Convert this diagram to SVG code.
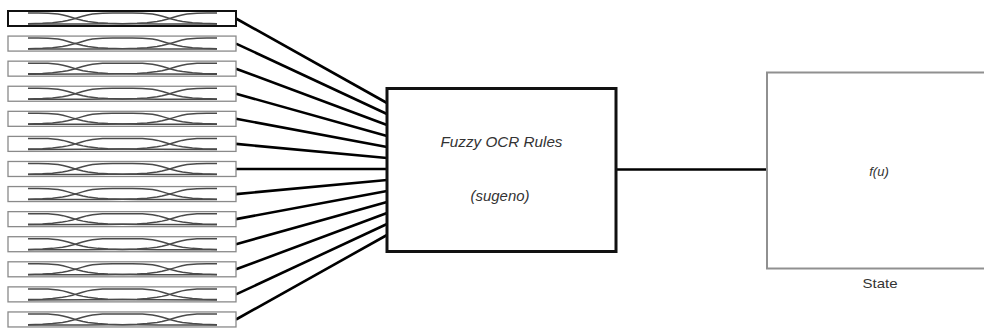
<svg xmlns="http://www.w3.org/2000/svg" xmlns:xlink="http://www.w3.org/1999/xlink" width="984" height="331" viewBox="0 0 984 331">
<style>
.in{fill:#fff;stroke:#8a8a8a;stroke-width:1.3}
.sel{stroke:#111;stroke-width:2}
.mf{fill:none;stroke:#4a4a4a;stroke-width:1.5}
.con{stroke:#000;stroke-width:2.6;fill:none}
.blk{fill:#fff;stroke:#111;stroke-width:3}
.out{fill:#fff;stroke:#909090;stroke-width:2}
.t{font-family:"Liberation Sans",Arial,sans-serif;fill:#333;text-anchor:middle}
.it{font-style:italic}
</style>
<defs>
<g id="mfs">
<polyline class="mf" points="28,2 38,2 48,2.15 58,3.03 63,4 68,5.33 73,6.83 75.25,7.5 78,8.27 83,9.49 88,10.44 98,11.65 108,12.26 122.5,12.67 138,12.84 158,12.93 217,13"/>
<polyline class="mf" points="28,12.67 42.5,12.26 52.5,11.65 62.5,10.44 67.5,9.49 72.5,8.27 75.25,7.5 77.5,6.83 82.5,5.33 87.5,4 92.5,3.03 102.5,2.15 112.5,2 122.5,2 132.5,2 142.5,2.15 152.5,3.03 157.5,4 162.5,5.33 167.5,6.83 169.75,7.5 172.5,8.27 177.5,9.49 182.5,10.44 192.5,11.65 202.5,12.26 217,12.67"/>
<polyline class="mf" points="217,2 207,2 197,2.15 187,3.03 182,4 177,5.33 172,6.83 169.75,7.5 167,8.27 162,9.49 157,10.44 147,11.65 137,12.26 122.5,12.67 107,12.84 87,12.93 28,13"/>
</g>
</defs>
<g id="connectors">
<line class="con" x1="236" y1="18.5" x2="387" y2="103"/>
<line class="con" x1="236" y1="43.6" x2="387" y2="114"/>
<line class="con" x1="236" y1="68.7" x2="387" y2="125"/>
<line class="con" x1="236" y1="93.7" x2="387" y2="136"/>
<line class="con" x1="236" y1="118.8" x2="387" y2="147"/>
<line class="con" x1="236" y1="143.9" x2="387" y2="158"/>
<line class="con" x1="236" y1="169" x2="387" y2="169"/>
<line class="con" x1="236" y1="194.1" x2="387" y2="180"/>
<line class="con" x1="236" y1="219.1" x2="387" y2="191"/>
<line class="con" x1="236" y1="244.2" x2="387" y2="202"/>
<line class="con" x1="236" y1="269.3" x2="387" y2="213"/>
<line class="con" x1="236" y1="294.4" x2="387" y2="224"/>
<line class="con" x1="236" y1="319.5" x2="387" y2="235"/>
<line class="con" x1="616" y1="169.5" x2="767" y2="169.5"/>
</g>
<g id="input1" transform="translate(0,11)"><rect class="in sel" x="8" y="0" width="228" height="15"/><use xlink:href="#mfs"/></g>
<g id="input2" transform="translate(0,36.08)"><rect class="in" x="8" y="0" width="228" height="15"/><use xlink:href="#mfs"/></g>
<g id="input3" transform="translate(0,61.16)"><rect class="in" x="8" y="0" width="228" height="15"/><use xlink:href="#mfs"/></g>
<g id="input4" transform="translate(0,86.24)"><rect class="in" x="8" y="0" width="228" height="15"/><use xlink:href="#mfs"/></g>
<g id="input5" transform="translate(0,111.32)"><rect class="in" x="8" y="0" width="228" height="15"/><use xlink:href="#mfs"/></g>
<g id="input6" transform="translate(0,136.4)"><rect class="in" x="8" y="0" width="228" height="15"/><use xlink:href="#mfs"/></g>
<g id="input7" transform="translate(0,161.48)"><rect class="in" x="8" y="0" width="228" height="15"/><use xlink:href="#mfs"/></g>
<g id="input8" transform="translate(0,186.56)"><rect class="in" x="8" y="0" width="228" height="15"/><use xlink:href="#mfs"/></g>
<g id="input9" transform="translate(0,211.64)"><rect class="in" x="8" y="0" width="228" height="15"/><use xlink:href="#mfs"/></g>
<g id="input10" transform="translate(0,236.72)"><rect class="in" x="8" y="0" width="228" height="15"/><use xlink:href="#mfs"/></g>
<g id="input11" transform="translate(0,261.8)"><rect class="in" x="8" y="0" width="228" height="15"/><use xlink:href="#mfs"/></g>
<g id="input12" transform="translate(0,286.88)"><rect class="in" x="8" y="0" width="228" height="15"/><use xlink:href="#mfs"/></g>
<g id="input13" transform="translate(0,311.96)"><rect class="in" x="8" y="0" width="228" height="15"/><use xlink:href="#mfs"/></g>
<g id="rules">
<rect class="blk" x="387" y="88.5" width="229" height="163"/>
<text class="t it" x="501.5" y="147" font-size="15" textLength="122" lengthAdjust="spacingAndGlyphs">Fuzzy OCR Rules</text>
<text class="t it" x="500" y="201" font-size="15" textLength="59" lengthAdjust="spacingAndGlyphs">(sugeno)</text>
</g>
<g id="output">
<rect class="out" x="767" y="72.5" width="230" height="196"/>
<text class="t it" x="879" y="175.5" font-size="13">f(u)</text>
<text class="t" x="880" y="288" font-size="13.5" textLength="35" lengthAdjust="spacingAndGlyphs">State</text>
</g>
</svg>
